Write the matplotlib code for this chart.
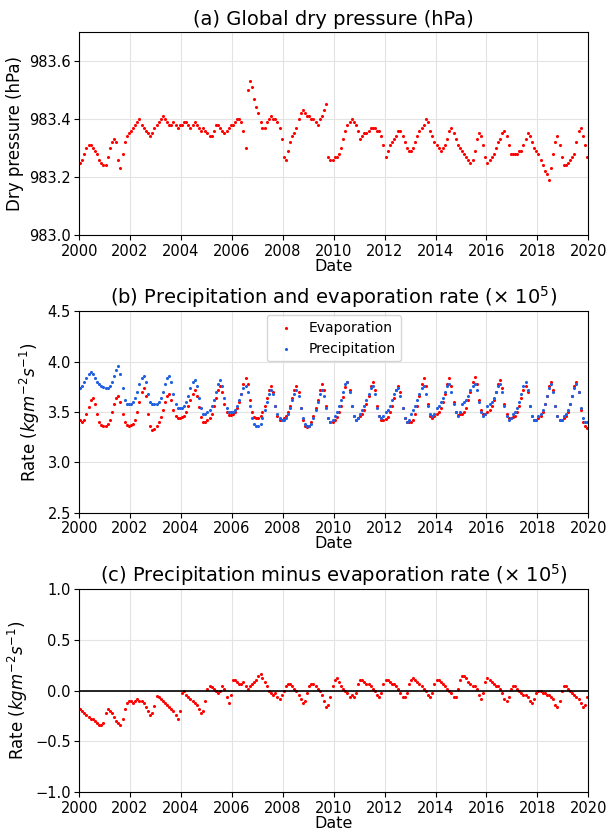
import numpy as np
import pandas as pd
import matplotlib
matplotlib.use("Agg")
import matplotlib.pyplot as plt
import matplotlib.dates as mdates


# -----------------------------
# DATA (monthly values)
# -----------------------------
years = list(range(2000, 2020))

dry_pressure = [
    983.25, 983.26, 983.28, 983.30, 983.31, 983.31, 983.30, 983.29, 983.28, 983.26, 983.25, 983.24,  # 2000
    983.24, 983.27, 983.30, 983.32, 983.33, 983.32, 983.26, 983.23, 983.28, 983.32, 983.34, 983.35,  # 2001
    983.36, 983.37, 983.38, 983.39, 983.40, 983.38, 983.37, 983.36, 983.35, 983.34, 983.35, 983.37,  # 2002
    983.38, 983.39, 983.40, 983.41, 983.40, 983.39, 983.38, 983.38, 983.39, 983.38, 983.37, 983.38,  # 2003
    983.38, 983.39, 983.39, 983.38, 983.37, 983.38, 983.39, 983.38, 983.37, 983.36, 983.37, 983.36,  # 2004
    983.35, 983.34, 983.34, 983.36, 983.38, 983.38, 983.37, 983.36, 983.35, 983.36, 983.37, 983.38,  # 2005
    983.38, 983.39, 983.40, 983.40, 983.39, 983.36, 983.30, 983.50, 983.53, 983.51, 983.47, 983.44,  # 2006
    983.42, 983.39, 983.37, 983.37, 983.39, 983.40, 983.41, 983.40, 983.40, 983.39, 983.37, 983.33,  # 2007
    983.27, 983.26, 983.29, 983.32, 983.34, 983.35, 983.37, 983.40, 983.42, 983.43, 983.42, 983.41,  # 2008
    983.41, 983.40, 983.40, 983.39, 983.38, 983.40, 983.41, 983.43, 983.45, 983.27, 983.26, 983.26,  # 2009
    983.27, 983.27, 983.28, 983.30, 983.33, 983.36, 983.38, 983.39, 983.40, 983.39, 983.38, 983.36,  # 2010
    983.33, 983.34, 983.35, 983.35, 983.36, 983.37, 983.37, 983.37, 983.36, 983.36, 983.34, 983.31,  # 2011
    983.27, 983.29, 983.31, 983.32, 983.33, 983.34, 983.36, 983.36, 983.34, 983.32, 983.30, 983.29,  # 2012
    983.29, 983.30, 983.32, 983.34, 983.36, 983.37, 983.38, 983.40, 983.39, 983.36, 983.34, 983.32,  # 2013
    983.31, 983.30, 983.29, 983.30, 983.31, 983.33, 983.36, 983.37, 983.35, 983.33, 983.31, 983.30,  # 2014
    983.29, 983.28, 983.27, 983.26, 983.25, 983.26, 983.29, 983.33, 983.35, 983.34, 983.31, 983.27,  # 2015
    983.25, 983.26, 983.27, 983.28, 983.30, 983.32, 983.33, 983.35, 983.36, 983.34, 983.31, 983.28,  # 2016
    983.28, 983.28, 983.28, 983.29, 983.29, 983.31, 983.33, 983.35, 983.34, 983.32, 983.30, 983.29,  # 2017
    983.28, 983.26, 983.24, 983.22, 983.21, 983.19, 983.23, 983.28, 983.32, 983.34, 983.31, 983.27,  # 2018
    983.24, 983.24, 983.25, 983.26, 983.27, 983.28, 983.32, 983.36, 983.37, 983.34, 983.31, 983.27,  # 2019
]

evaporation = [
    3.42, 3.40, 3.42, 3.48, 3.55, 3.62, 3.64, 3.58, 3.48, 3.40, 3.37, 3.36,  # 2000
    3.36, 3.38, 3.42, 3.50, 3.58, 3.64, 3.66, 3.60, 3.48, 3.40, 3.37, 3.36,  # 2001
    3.37, 3.38, 3.42, 3.50, 3.60, 3.70, 3.74, 3.66, 3.48, 3.36, 3.32, 3.33,  # 2002
    3.36, 3.40, 3.45, 3.52, 3.60, 3.66, 3.68, 3.62, 3.52, 3.46, 3.44, 3.44,  # 2003
    3.45, 3.46, 3.50, 3.56, 3.62, 3.68, 3.72, 3.66, 3.55, 3.45, 3.40, 3.40,  # 2004
    3.42, 3.44, 3.48, 3.56, 3.64, 3.72, 3.76, 3.70, 3.58, 3.50, 3.47, 3.47,  # 2005
    3.48, 3.50, 3.54, 3.60, 3.68, 3.78, 3.84, 3.78, 3.62, 3.50, 3.45, 3.44,  # 2006
    3.44, 3.46, 3.50, 3.56, 3.64, 3.72, 3.76, 3.70, 3.56, 3.46, 3.42, 3.42,  # 2007
    3.44, 3.46, 3.50, 3.56, 3.64, 3.72, 3.76, 3.70, 3.54, 3.42, 3.36, 3.35,  # 2008
    3.36, 3.40, 3.46, 3.54, 3.62, 3.72, 3.78, 3.72, 3.56, 3.44, 3.40, 3.40,  # 2009
    3.42, 3.45, 3.50, 3.56, 3.65, 3.75, 3.80, 3.72, 3.56, 3.46, 3.42, 3.44,  # 2010
    3.46, 3.48, 3.52, 3.58, 3.66, 3.76, 3.80, 3.72, 3.56, 3.46, 3.42, 3.42,  # 2011
    3.43, 3.45, 3.50, 3.56, 3.64, 3.72, 3.76, 3.70, 3.54, 3.44, 3.40, 3.40,  # 2012
    3.40, 3.42, 3.48, 3.56, 3.66, 3.78, 3.84, 3.76, 3.58, 3.46, 3.44, 3.46,  # 2013
    3.48, 3.50, 3.54, 3.60, 3.68, 3.78, 3.84, 3.76, 3.60, 3.50, 3.47, 3.48,  # 2014
    3.48, 3.50, 3.54, 3.62, 3.70, 3.80, 3.85, 3.78, 3.62, 3.52, 3.48, 3.48,  # 2015
    3.50, 3.52, 3.56, 3.62, 3.70, 3.78, 3.82, 3.74, 3.58, 3.48, 3.44, 3.44,  # 2016
    3.45, 3.46, 3.50, 3.56, 3.64, 3.72, 3.76, 3.70, 3.56, 3.46, 3.42, 3.42,  # 2017
    3.44, 3.46, 3.50, 3.58, 3.66, 3.76, 3.80, 3.72, 3.56, 3.46, 3.42, 3.42,  # 2018
    3.44, 3.46, 3.50, 3.58, 3.66, 3.76, 3.80, 3.70, 3.52, 3.40, 3.36, 3.34,  # 2019
]

precipitation = [
    3.74, 3.76, 3.80, 3.84, 3.88, 3.90, 3.88, 3.84, 3.80, 3.78, 3.76, 3.75,  # 2000
    3.74, 3.74, 3.76, 3.80, 3.86, 3.92, 3.96, 3.88, 3.74, 3.62, 3.58, 3.58,  # 2001
    3.58, 3.60, 3.64, 3.70, 3.78, 3.84, 3.86, 3.80, 3.68, 3.60, 3.58, 3.58,  # 2002
    3.58, 3.60, 3.64, 3.70, 3.78, 3.84, 3.86, 3.80, 3.68, 3.58, 3.54, 3.54,  # 2003
    3.54, 3.56, 3.60, 3.66, 3.74, 3.80, 3.82, 3.76, 3.64, 3.54, 3.48, 3.48,  # 2004
    3.50, 3.52, 3.56, 3.62, 3.70, 3.78, 3.82, 3.76, 3.64, 3.54, 3.50, 3.50,  # 2005
    3.50, 3.52, 3.56, 3.62, 3.68, 3.74, 3.76, 3.70, 3.56, 3.44, 3.38, 3.36,  # 2006
    3.36, 3.38, 3.44, 3.52, 3.60, 3.68, 3.72, 3.68, 3.56, 3.48, 3.44, 3.42,  # 2007
    3.42, 3.44, 3.48, 3.54, 3.62, 3.68, 3.72, 3.66, 3.54, 3.44, 3.38, 3.36,  # 2008
    3.36, 3.38, 3.44, 3.52, 3.60, 3.68, 3.72, 3.66, 3.54, 3.44, 3.40, 3.42,  # 2009
    3.46, 3.50, 3.56, 3.62, 3.70, 3.78, 3.80, 3.70, 3.56, 3.46, 3.42, 3.44,  # 2010
    3.48, 3.52, 3.56, 3.62, 3.68, 3.74, 3.76, 3.68, 3.54, 3.46, 3.44, 3.46,  # 2011
    3.50, 3.52, 3.56, 3.62, 3.68, 3.72, 3.74, 3.66, 3.54, 3.44, 3.40, 3.42,  # 2012
    3.48, 3.52, 3.56, 3.62, 3.68, 3.74, 3.76, 3.68, 3.56, 3.48, 3.46, 3.48,  # 2013
    3.54, 3.56, 3.60, 3.64, 3.70, 3.76, 3.78, 3.70, 3.58, 3.50, 3.46, 3.50,  # 2014
    3.58, 3.60, 3.62, 3.66, 3.72, 3.76, 3.78, 3.72, 3.60, 3.50, 3.46, 3.48,  # 2015
    3.56, 3.58, 3.60, 3.64, 3.70, 3.76, 3.78, 3.70, 3.56, 3.46, 3.42, 3.44,  # 2016
    3.48, 3.50, 3.54, 3.60, 3.68, 3.76, 3.80, 3.72, 3.56, 3.46, 3.42, 3.42,  # 2017
    3.46, 3.48, 3.52, 3.58, 3.66, 3.74, 3.78, 3.70, 3.56, 3.46, 3.42, 3.42,  # 2018
    3.46, 3.48, 3.52, 3.58, 3.66, 3.74, 3.78, 3.70, 3.54, 3.44, 3.40, 3.40,  # 2019
]

p_minus_e = [
    -0.18, -0.20, -0.22, -0.24, -0.26, -0.28, -0.28, -0.30, -0.32, -0.34, -0.34, -0.32,  # 2000
    -0.22, -0.18, -0.20, -0.22, -0.26, -0.30, -0.32, -0.34, -0.28, -0.18, -0.12, -0.10,  # 2001
    -0.10, -0.12, -0.10, -0.08, -0.10, -0.10, -0.12, -0.16, -0.20, -0.24, -0.22, -0.15,  # 2002
    -0.05, -0.06, -0.08, -0.10, -0.12, -0.14, -0.16, -0.18, -0.20, -0.24, -0.28, -0.20,  # 2003
    -0.02, 0.00, -0.04, -0.06, -0.08, -0.10, -0.12, -0.14, -0.18, -0.22, -0.20, -0.10,  # 2004
    0.02, 0.04, 0.03, 0.02, 0.00, -0.02, 0.00, 0.04, 0.02, -0.06, -0.12, -0.04,  # 2005
    0.10, 0.10, 0.08, 0.06, 0.06, 0.08, 0.04, 0.02, 0.04, 0.06, 0.08, 0.10,  # 2006
    0.14, 0.16, 0.12, 0.08, 0.04, 0.00, -0.02, -0.04, -0.02, -0.06, -0.08, -0.04,  # 2007
    0.00, 0.04, 0.06, 0.06, 0.04, 0.02, 0.00, -0.04, -0.08, -0.12, -0.10, -0.02,  # 2008
    0.04, 0.06, 0.06, 0.04, 0.02, 0.00, -0.04, -0.10, -0.16, -0.14, -0.06, 0.04,  # 2009
    0.10, 0.12, 0.08, 0.04, 0.02, 0.00, -0.02, -0.06, -0.04, -0.06, -0.02, 0.06,  # 2010
    0.10, 0.10, 0.08, 0.06, 0.06, 0.04, 0.02, 0.00, -0.04, -0.06, -0.02, 0.06,  # 2011
    0.10, 0.10, 0.08, 0.06, 0.06, 0.04, 0.02, -0.02, -0.06, -0.06, -0.02, 0.06,  # 2012
    0.10, 0.12, 0.10, 0.08, 0.06, 0.04, 0.02, 0.00, -0.04, -0.06, -0.02, 0.06,  # 2013
    0.10, 0.10, 0.08, 0.06, 0.04, 0.02, 0.00, -0.02, -0.06, -0.06, 0.02, 0.10,  # 2014
    0.14, 0.14, 0.12, 0.08, 0.06, 0.04, 0.04, 0.02, -0.04, -0.08, -0.02, 0.08,  # 2015
    0.12, 0.10, 0.08, 0.06, 0.04, 0.04, 0.02, -0.02, -0.08, -0.10, -0.06, 0.02,  # 2016
    0.04, 0.04, 0.02, 0.00, -0.02, -0.04, -0.04, -0.06, -0.10, -0.12, -0.08, -0.02,  # 2017
    0.00, 0.00, -0.02, -0.02, -0.04, -0.04, -0.06, -0.08, -0.14, -0.16, -0.10, 0.00,  # 2018
    0.04, 0.04, 0.02, 0.00, -0.02, -0.04, -0.06, -0.08, -0.12, -0.16, -0.14, -0.06,  # 2019
]

# mid-month dates for the monthly readings
dates = pd.date_range(f"{years[0]}-01-01", periods=len(dry_pressure), freq="MS") + pd.Timedelta(days=14)


# -----------------------------
# PLOT
# -----------------------------
def style_axis(ax):
    ax.set_xlim(pd.Timestamp("2000-01-01"), pd.Timestamp("2020-01-01"))
    ax.xaxis.set_major_locator(mdates.YearLocator(2))
    ax.xaxis.set_major_formatter(mdates.DateFormatter("%Y"))
    ax.grid(True, color="#e3e3e3", linewidth=0.8)
    ax.set_axisbelow(True)
    ax.tick_params(labelsize=10.5, length=3.5, pad=2.5)
    ax.set_xlabel("Date", fontsize=11.5, labelpad=0)


fig = plt.figure(figsize=(6.09, 8.34), dpi=100)
ax_a = fig.add_axes([0.130, 0.718, 0.836, 0.244])
ax_b = fig.add_axes([0.130, 0.385, 0.836, 0.242])
ax_c = fig.add_axes([0.130, 0.050, 0.836, 0.244])

dot = dict(s=5, linewidths=0)

# (a)
ax_a.scatter(dates, dry_pressure, color="red", **dot)
ax_a.set_ylim(983.0, 983.7)
ax_a.set_yticks([983.0, 983.2, 983.4, 983.6])
ax_a.set_ylabel("Dry pressure (hPa)", fontsize=12)
ax_a.set_title("(a) Global dry pressure (hPa)", fontsize=14, pad=5)
style_axis(ax_a)

# (b)
ax_b.scatter(dates, evaporation, color="red", label="Evaporation", **dot)
ax_b.scatter(dates, precipitation, color="#1f5fe0", label="Precipitation", **dot)
ax_b.set_ylim(2.5, 4.5)
ax_b.set_yticks([2.5, 3.0, 3.5, 4.0, 4.5])
ax_b.set_ylabel(r"Rate ($kgm^{-2}s^{-1}$)", fontsize=12)
ax_b.set_title(r"(b) Precipitation and evaporation rate ($\times$ 10$^5$)", fontsize=14, pad=5)
ax_b.legend(loc="upper center", fontsize=10, markerscale=1.0, handletextpad=0.6,
            borderaxespad=0.3, framealpha=0.8)
style_axis(ax_b)

# (c)
ax_c.scatter(dates, p_minus_e, color="red", **dot)
ax_c.axhline(0, color="black", linewidth=1.2)
ax_c.set_ylim(-1.0, 1.0)
ax_c.set_yticks([-1.0, -0.5, 0.0, 0.5, 1.0])
ax_c.set_ylabel(r"Rate ($kgm^{-2}s^{-1}$)", fontsize=12)
ax_c.set_title(r"(c) Precipitation minus evaporation rate ($\times$ 10$^5$)", fontsize=14, pad=5)
style_axis(ax_c)

fig.savefig("out.png", dpi=100)
